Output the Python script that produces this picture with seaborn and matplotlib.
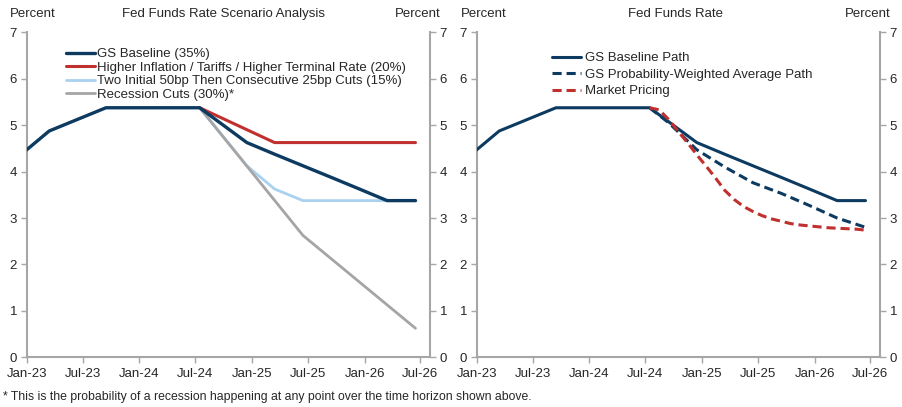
import pandas as pd
import numpy as np
import matplotlib
matplotlib.use("Agg")
import matplotlib.pyplot as plt
import matplotlib.dates as mdates
import seaborn as sb

# --- dados ---
base_dates = ["2022-12-15", "2023-03-15", "2023-09-15", "2024-07-15", "2024-12-15", "2025-03-15",
              "2025-06-15", "2025-09-15", "2025-12-15", "2026-03-15", "2026-06-15"]
base_vals = [4.375, 4.875, 5.375, 5.375, 4.625, 4.375, 4.125, 3.875, 3.625, 3.375, 3.375]

infl_dates = ["2024-07-15", "2025-03-15", "2026-06-15"]
infl_vals = [5.375, 4.625, 4.625]

fast_dates = ["2024-07-15", "2024-12-15", "2025-03-15", "2025-06-15", "2026-06-15"]
fast_vals = [5.375, 4.125, 3.625, 3.375, 3.375]

rec_dates = ["2024-07-15", "2025-06-15", "2026-06-15"]
rec_vals = [5.375, 2.625, 0.625]

pw_dates = ["2024-07-15", "2024-09-15", "2024-12-15", "2025-03-15", "2025-06-15",
            "2025-09-15", "2025-12-15", "2026-03-15", "2026-06-15"]
pw_vals = [5.375, 5.05, 4.47, 4.10, 3.76, 3.53, 3.27, 3.00, 2.80]

mkt_dates = ["2024-07-15", "2024-08-15", "2024-09-15", "2024-10-15", "2024-11-15", "2024-12-15",
             "2025-01-15", "2025-02-15", "2025-03-15", "2025-04-15", "2025-05-15", "2025-06-15",
             "2025-07-15", "2025-08-15", "2025-09-15", "2025-10-15", "2025-11-15", "2025-12-15",
             "2026-01-15", "2026-02-15", "2026-03-15", "2026-04-15", "2026-05-15", "2026-06-15"]
mkt_vals = [5.375, 5.33, 5.12, 4.87, 4.62, 4.36, 4.11, 3.85, 3.60, 3.40, 3.25, 3.14,
            3.05, 2.98, 2.93, 2.88, 2.85, 2.83, 2.81, 2.79, 2.78, 2.77, 2.76, 2.74]

left_labels = ["GS Baseline (35%)",
               "Higher Inflation / Tariffs / Higher Terminal Rate (20%)",
               "Two Initial 50bp Then Consecutive 25bp Cuts (15%)",
               "Recession Cuts (30%)*"]
right_labels = ["GS Baseline Path", "GS Probability-Weighted Average Path", "Market Pricing"]
yticks = [0, 1, 2, 3, 4, 5, 6, 7]

NAVY = "#0c3a60"
RED = "#c0302e"
LBLUE = "#a9d1f0"
GRAY = "#a5a5a5"
SPINE = "#a6a6a6"
FS = 9.5


def serie(dates, vals):
    return pd.DataFrame({"data": pd.to_datetime(dates), "valor": vals})


sb.set_style("ticks")
plt.rcParams['font.family'] = ['Liberation Sans', 'DejaVu Sans']
plt.rcParams['font.size'] = FS

fig = plt.figure(figsize=(9.02, 4.07), dpi=100)
ax1 = fig.add_axes([0.0296, 0.1221, 0.4471, 0.7985])
ax2 = fig.add_axes([0.5285, 0.1221, 0.4471, 0.7985])


def formatar(ax):
    ax.set_xlim(pd.Timestamp("2023-01-01"), pd.Timestamp("2026-08-01"))
    ax.set_ylim(0, 7)
    ax.set_yticks(yticks)
    ax.xaxis.set_major_locator(mdates.MonthLocator(bymonth=[1, 7]))
    ax.xaxis.set_major_formatter(mdates.DateFormatter("%b-%y"))
    ax.set_xlabel("")
    ax.set_ylabel("")
    ax.spines["top"].set_visible(False)
    for s in ["left", "right", "bottom"]:
        ax.spines[s].set_color(SPINE)
        ax.spines[s].set_linewidth(1.5)
        ax.spines[s].set_visible(True)
    ax.tick_params(axis="both", length=4, width=1, color=SPINE, labelsize=FS, pad=3)
    ax.tick_params(axis="x", pad=4)
    tw = ax.twinx()
    tw.set_ylim(0, 7)
    tw.set_yticks(yticks)
    tw.spines["top"].set_visible(False)
    for s in ["left", "right", "bottom"]:
        tw.spines[s].set_visible(False)
    tw.tick_params(axis="y", length=4, width=1, color=SPINE, labelsize=FS, pad=3)


# --- painel esquerdo ---
sb.lineplot(data=serie(fast_dates, fast_vals), x="data", y="valor", ax=ax1, color=LBLUE, lw=2.0,
            label=left_labels[2], zorder=2)
sb.lineplot(data=serie(rec_dates, rec_vals), x="data", y="valor", ax=ax1, color=GRAY, lw=2.0,
            label=left_labels[3], zorder=3)
sb.lineplot(data=serie(infl_dates, infl_vals), x="data", y="valor", ax=ax1, color=RED, lw=2.2,
            label=left_labels[1], zorder=4)
sb.lineplot(data=serie(base_dates, base_vals), x="data", y="valor", ax=ax1, color=NAVY, lw=2.4,
            label=left_labels[0], zorder=5)
h, l = ax1.get_legend_handles_labels()
ordem = [l.index(t) for t in left_labels]
ax1.legend([h[i] for i in ordem], [l[i] for i in ordem], loc="upper left",
           bbox_to_anchor=(0.08, 0.972), frameon=False, handlelength=2.2, handletextpad=0.15,
           labelspacing=0.1, borderpad=0, fontsize=FS)
formatar(ax1)

# --- painel direito ---
sb.lineplot(data=serie(base_dates, base_vals), x="data", y="valor", ax=ax2, color=NAVY, lw=2.2,
            label=right_labels[0], zorder=3)
sb.lineplot(data=serie(pw_dates, pw_vals), x="data", y="valor", ax=ax2, color=NAVY, lw=2.2,
            dashes=(3, 1.6), label=right_labels[1], zorder=4)
sb.lineplot(data=serie(mkt_dates, mkt_vals), x="data", y="valor", ax=ax2, color=RED, lw=2.2,
            dashes=(3, 1.6), label=right_labels[2], zorder=5)
ax2.legend(loc="upper left", bbox_to_anchor=(0.17, 0.96), frameon=False, handlelength=2.2,
           handletextpad=0.3, labelspacing=0.33, borderpad=0, fontsize=FS)
formatar(ax2)

# titulos e rotulos
fig.text(10 / 902, 1 - 14 / 407, "Percent", ha="left", va="center", fontsize=FS)
fig.text(224 / 902, 1 - 14 / 407, "Fed Funds Rate Scenario Analysis", ha="center", va="center", fontsize=FS)
fig.text(441 / 902, 1 - 14 / 407, "Percent", ha="right", va="center", fontsize=FS)
fig.text(461 / 902, 1 - 14 / 407, "Percent", ha="left", va="center", fontsize=FS)
fig.text(676 / 902, 1 - 14 / 407, "Fed Funds Rate", ha="center", va="center", fontsize=FS)
fig.text(891 / 902, 1 - 14 / 407, "Percent", ha="right", va="center", fontsize=FS)
fig.text(3 / 902, 1 - 397 / 407,
         "* This is the probability of a recession happening at any point over the time horizon shown above.",
         ha="left", va="center", fontsize=8.8)

fig.savefig("out.png", dpi=100)
